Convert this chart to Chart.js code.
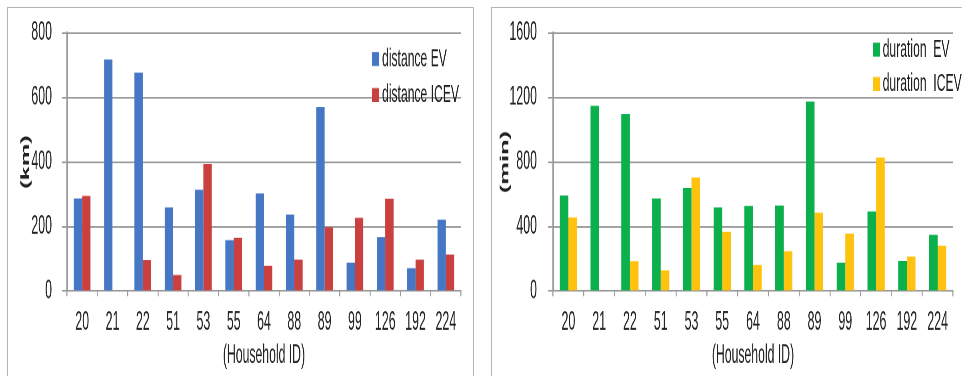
<!DOCTYPE html>
<html><head><meta charset="utf-8">
<script src="https://cdn.jsdelivr.net/npm/chart.js@4.4.0/dist/chart.umd.min.js"></script>
<style>
html,body{margin:0;padding:0;background:#fff;}
body{width:962px;height:376px;position:relative;overflow:hidden;}
.frame{position:absolute;border:1px solid #b4b4b4;box-sizing:border-box;}
.wrap{position:absolute;top:0;width:600px;height:222px;transform:scale(0.8,1.7);transform-origin:0 0;}
</style></head><body>
<div class="frame" style="left:7px;top:7px;width:467px;height:380px"></div>
<div class="frame" style="left:491px;top:7px;width:480px;height:380px"></div>
<div class="wrap" style="left:0"><canvas id="c1"></canvas></div>
<div class="wrap" style="left:482px"><canvas id="c2"></canvas></div>
<script>
const categories = ['20','21','22','51','53','55','64','88','89','99','126','192','224'];
const distanceEV   = [287, 718, 677, 259, 314, 158, 303, 237, 570, 88, 167, 71, 221];
const distanceICEV = [295, 0, 96, 50, 394, 165, 78, 97, 198, 227, 286, 97, 113];
const durationEV   = [593, 1148, 1098, 574, 640, 518, 528, 530, 1175, 176, 493, 187, 348];
const durationICEV = [456, 0, 185, 129, 705, 367, 162, 247, 485, 357, 827, 214, 282];
const distanceTicks = [0, 200, 400, 600, 800];
const durationTicks = [0, 400, 800, 1200, 1600];

const FONT = "'Liberation Sans', Arial, sans-serif";

const boxLegend = {
  id: 'boxLegend',
  afterDraw(chart, args, o) {
    const ctx = chart.ctx;
    ctx.save();
    ctx.font = o.size + 'px ' + FONT;
    ctx.textBaseline = 'middle';
    ctx.textAlign = 'left';
    chart.data.datasets.forEach((ds, i) => {
      const y = o.y + i * o.dy;
      ctx.fillStyle = ds.backgroundColor;
      ctx.fillRect(o.x, y - o.bh / 2, o.bw, o.bh);
      ctx.fillStyle = '#1e1e1e';
      ctx.fillText(ds.label, o.x + o.gap, y);
    });
    ctx.restore();
  }
};

function makeChart(id, cfg) {
  return new Chart(document.getElementById(id), {
    type: 'bar',
    data: {
      labels: categories,
      datasets: [
        {label: cfg.labels[0], data: cfg.series[0], backgroundColor: cfg.colors[0], borderWidth: 0, barPercentage: 1, categoryPercentage: cfg.cat},
        {label: cfg.labels[1], data: cfg.series[1], backgroundColor: cfg.colors[1], borderWidth: 0, barPercentage: 1, categoryPercentage: cfg.cat}
      ]
    },
    options: {
      responsive: true, maintainAspectRatio: false, animation: false, devicePixelRatio: 2,
      layout: {padding: {left: 0, right: cfg.padRight, top: 19.4, bottom: 0}},
      plugins: {legend: {display: false}, tooltip: {enabled: false}, boxLegend: cfg.legend},
      scales: {
        x: {
          grid: {display: true, offset: true, drawOnChartArea: false, drawTicks: true, tickLength: 3, color: '#9a9a9a', lineWidth: 1.3},
          border: {display: true, color: '#9a9a9a', width: 1},
          ticks: {color: '#222', font: {family: FONT, size: 15.5}, padding: 6, maxRotation: 0, autoSkip: false},
          title: {display: true, text: '(Household ID)', color: '#222', font: {family: FONT, size: 15.3}, padding: {top: 0, bottom: 3.5}},
          afterFit: s => { s.height = 50.8; }
        },
        y: {
          min: 0, max: cfg.ticks[cfg.ticks.length - 1],
          afterBuildTicks: s => { s.ticks = cfg.ticks.map(v => ({value: v})); },
          ticks: {color: '#222', font: {family: FONT, size: 15.5}, padding: cfg.ypad, callback: v => String(v)},
          grid: {color: '#9a9a9a', lineWidth: 1, tickLength: 6.25},
          border: {display: true, color: '#9a9a9a', width: 2},
          title: {display: true, text: cfg.ytitle, color: '#222', font: {family: FONT, size: 15, weight: 'bold'}, padding: {top: cfg.ytp, bottom: 0}},
          afterFit: s => { s.width = cfg.yw; s.paddingTop = 0; s.paddingBottom = 0; }
        }
      }
    },
    plugins: [boxLegend]
  });
}

makeChart('c1', {
  labels: ['distance EV', 'distance ICEV'],
  series: [distanceEV, distanceICEV],
  colors: ['#4677C4', '#C9403E'],
  cat: 0.55, padRight: 23.75, yw: 83.75, ypad: 12.5, ytp: 23.5, ytitle: '(km)',
  ticks: distanceTicks,
  legend: {x: 465, y: 34.7, dy: 21.2, bw: 8.75, bh: 8.2, gap: 12.5, size: 15.2}
});
makeChart('c2', {
  labels: ['duration  EV', 'duration  ICEV'],
  series: [durationEV, durationICEV],
  colors: ['#0BAF4B', '#FFC20F'],
  cat: 0.56, padRight: 11.25, yw: 88.75, ypad: 13.75, ytp: 19.8, ytitle: '(min)',
  ticks: durationTicks,
  legend: {x: 488.75, y: 29.2, dy: 20.2, bw: 8.75, bh: 8.2, gap: 12.1, size: 15.2}
});
</script>
</body></html>
